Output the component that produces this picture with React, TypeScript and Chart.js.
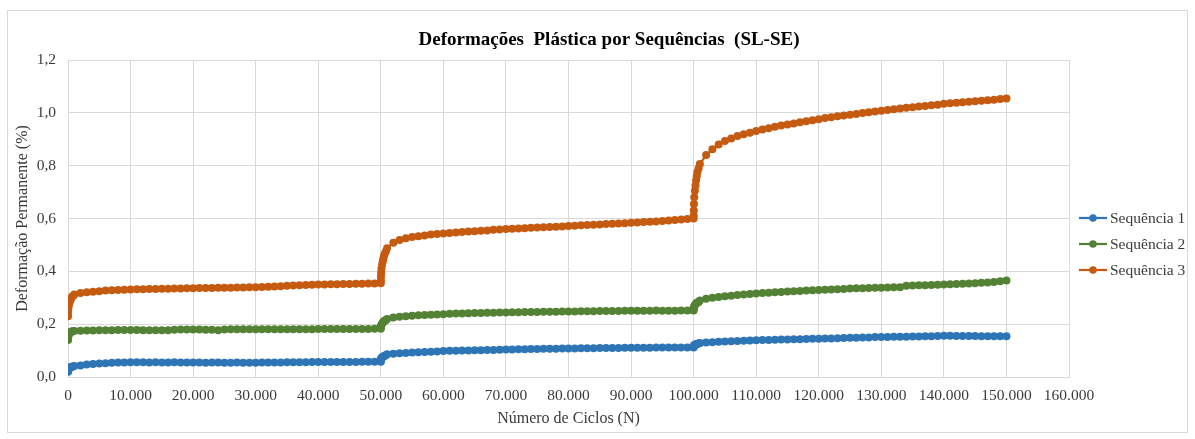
import React, { useEffect, useRef } from "react";
import { Chart, registerables } from "chart.js";

Chart.register(...registerables);

// Cycle offsets within each loading stage (N), and stage starting cycles
const CYCLE_OFFSETS = [
  10, 20, 50, 100, 200, 300, 400, 500, 600, 800,
  1000, 2000, 3000, 4000, 5000, 6000, 7000, 8000, 9000, 10000,
  11000, 12000, 13000, 14000, 15000, 16000, 17000, 18000, 19000, 20000,
  21000, 22000, 23000, 24000, 25000, 26000, 27000, 28000, 29000, 30000,
  31000, 32000, 33000, 34000, 35000, 36000, 37000, 38000, 39000, 40000,
  41000, 42000, 43000, 44000, 45000, 46000, 47000, 48000, 49000, 50000,
];
const STAGE_STARTS = [0, 50000, 100000];

// Sequência 1 (%)
const SEQ1_STAGE1 = [
  0.020, 0.024, 0.027, 0.030, 0.033, 0.035, 0.037, 0.038, 0.039, 0.040,
  0.042, 0.044, 0.047, 0.049, 0.051, 0.052, 0.054, 0.055, 0.055, 0.056,
  0.056, 0.056, 0.055, 0.056, 0.055, 0.055, 0.056, 0.055, 0.055, 0.055,
  0.055, 0.054, 0.055, 0.055, 0.054, 0.054, 0.055, 0.054, 0.054, 0.054,
  0.055, 0.055, 0.055, 0.055, 0.056, 0.056, 0.056, 0.056, 0.057, 0.057,
  0.057, 0.057, 0.057, 0.057, 0.057, 0.057, 0.058, 0.058, 0.058, 0.058,
];
const SEQ1_STAGE2 = [
  0.062, 0.066, 0.069, 0.072, 0.074, 0.076, 0.078, 0.079, 0.080, 0.082,
  0.086, 0.088, 0.090, 0.091, 0.093, 0.094, 0.095, 0.096, 0.097, 0.098,
  0.099, 0.099, 0.100, 0.100, 0.101, 0.101, 0.102, 0.102, 0.103, 0.104,
  0.104, 0.105, 0.105, 0.106, 0.106, 0.107, 0.107, 0.107, 0.108, 0.108,
  0.108, 0.109, 0.109, 0.109, 0.110, 0.110, 0.110, 0.110, 0.111, 0.111,
  0.111, 0.111, 0.111, 0.112, 0.112, 0.112, 0.112, 0.112, 0.112, 0.112,
];
const SEQ1_STAGE3 = [
  0.114, 0.116, 0.118, 0.120, 0.122, 0.123, 0.124, 0.125, 0.126, 0.127,
  0.129, 0.131, 0.132, 0.133, 0.134, 0.135, 0.136, 0.137, 0.138, 0.139,
  0.140, 0.140, 0.141, 0.142, 0.142, 0.143, 0.143, 0.144, 0.145, 0.145,
  0.146, 0.146, 0.147, 0.148, 0.149, 0.149, 0.150, 0.150, 0.151, 0.151,
  0.151, 0.152, 0.152, 0.152, 0.153, 0.153, 0.154, 0.154, 0.155, 0.156,
  0.156, 0.155, 0.155, 0.155, 0.155, 0.154, 0.154, 0.154, 0.154, 0.154,
];

// Sequência 2 (%)
const SEQ2_STAGE1 = [
  0.140, 0.148, 0.155, 0.160, 0.164, 0.167, 0.169, 0.171, 0.172, 0.173,
  0.174, 0.175, 0.176, 0.176, 0.177, 0.177, 0.177, 0.178, 0.178, 0.178,
  0.178, 0.177, 0.177, 0.177, 0.177, 0.177, 0.179, 0.180, 0.180, 0.180,
  0.180, 0.179, 0.179, 0.177, 0.180, 0.181, 0.181, 0.181, 0.181, 0.181,
  0.181, 0.181, 0.181, 0.181, 0.181, 0.181, 0.181, 0.181, 0.181, 0.182,
  0.182, 0.182, 0.182, 0.182, 0.182, 0.182, 0.182, 0.182, 0.183, 0.183,
];
const SEQ2_STAGE2 = [
  0.186, 0.190, 0.194, 0.198, 0.202, 0.205, 0.208, 0.211, 0.213, 0.215,
  0.220, 0.225, 0.228, 0.230, 0.232, 0.234, 0.235, 0.236, 0.237, 0.238,
  0.239, 0.240, 0.240, 0.241, 0.242, 0.242, 0.243, 0.243, 0.244, 0.244,
  0.245, 0.245, 0.246, 0.246, 0.246, 0.247, 0.247, 0.247, 0.248, 0.248,
  0.248, 0.249, 0.249, 0.249, 0.250, 0.250, 0.250, 0.250, 0.251, 0.251,
  0.251, 0.251, 0.251, 0.252, 0.251, 0.251, 0.251, 0.252, 0.252, 0.252,
];
const SEQ2_STAGE3 = [
  0.256, 0.260, 0.264, 0.268, 0.272, 0.275, 0.278, 0.280, 0.282, 0.284,
  0.290, 0.296, 0.300, 0.303, 0.306, 0.308, 0.310, 0.312, 0.314, 0.316,
  0.318, 0.319, 0.321, 0.322, 0.324, 0.325, 0.326, 0.327, 0.328, 0.329,
  0.330, 0.331, 0.332, 0.333, 0.335, 0.336, 0.336, 0.337, 0.338, 0.338,
  0.339, 0.340, 0.340, 0.345, 0.346, 0.347, 0.347, 0.348, 0.349, 0.350,
  0.351, 0.352, 0.353, 0.354, 0.355, 0.357, 0.358, 0.360, 0.362, 0.365,
];

// Sequência 3 (%)
const SEQ3_STAGE1 = [
  0.230, 0.245, 0.258, 0.268, 0.278, 0.286, 0.292, 0.298, 0.303, 0.307,
  0.312, 0.318, 0.321, 0.323, 0.325, 0.327, 0.328, 0.329, 0.330, 0.331,
  0.332, 0.332, 0.333, 0.333, 0.334, 0.334, 0.335, 0.335, 0.336, 0.336,
  0.337, 0.337, 0.337, 0.338, 0.338, 0.338, 0.339, 0.339, 0.340, 0.340,
  0.341, 0.342, 0.343, 0.344, 0.345, 0.346, 0.347, 0.348, 0.349, 0.350,
  0.350, 0.351, 0.351, 0.352, 0.352, 0.353, 0.353, 0.354, 0.354, 0.355,
];
const SEQ3_STAGE2 = [
  0.365, 0.380, 0.395, 0.410, 0.425, 0.437, 0.448, 0.457, 0.465, 0.475,
  0.487, 0.508, 0.519, 0.525, 0.530, 0.533, 0.536, 0.539, 0.541, 0.543,
  0.545, 0.547, 0.549, 0.551, 0.552, 0.554, 0.555, 0.557, 0.558, 0.560,
  0.561, 0.562, 0.563, 0.565, 0.566, 0.567, 0.568, 0.569, 0.570, 0.572,
  0.573, 0.574, 0.575, 0.576, 0.577, 0.579, 0.580, 0.581, 0.582, 0.584,
  0.585, 0.587, 0.588, 0.589, 0.591, 0.592, 0.594, 0.596, 0.598, 0.600,
];
const SEQ3_STAGE3 = [
  0.610, 0.630, 0.655, 0.680, 0.705, 0.725, 0.745, 0.760, 0.775, 0.790,
  0.806, 0.840, 0.862, 0.880, 0.893, 0.903, 0.912, 0.919, 0.925, 0.931,
  0.937, 0.942, 0.947, 0.952, 0.956, 0.960, 0.964, 0.968, 0.972, 0.976,
  0.980, 0.983, 0.987, 0.990, 0.993, 0.996, 0.999, 1.002, 1.005, 1.008,
  1.011, 1.014, 1.016, 1.019, 1.021, 1.024, 1.026, 1.029, 1.031, 1.034,
  1.036, 1.038, 1.040, 1.042, 1.044, 1.046, 1.048, 1.050, 1.052, 1.054,
];

const SERIES_LABELS = ["Sequência 1", "Sequência 2", "Sequência 3"];
const SERIES_COLORS = ["#2E75B6", "#548235", "#C55A11"];
const SERIES_STAGES = [
  [SEQ1_STAGE1, SEQ1_STAGE2, SEQ1_STAGE3],
  [SEQ2_STAGE1, SEQ2_STAGE2, SEQ2_STAGE3],
  [SEQ3_STAGE1, SEQ3_STAGE2, SEQ3_STAGE3],
];

const TITLE = "Deformações  Plástica por Sequências  (SL-SE)";
const X_TITLE = "Número de Ciclos (N)";
const Y_TITLE = "Deformação Permanente (%)";

const FONT = '"Liberation Serif", "Times New Roman", serif';
const TEXT_COLOR = "#3a3a3a";
const GRID_COLOR = "#d9d9d9";

function buildPoints(stages: number[][]) {
  const pts: { x: number; y: number }[] = [];
  stages.forEach((vals, s) => {
    vals.forEach((v, i) => {
      pts.push({ x: STAGE_STARTS[s] + CYCLE_OFFSETS[i], y: v });
    });
  });
  return pts;
}

function fmtThousands(v: number) {
  return Math.round(v)
    .toString()
    .replace(/\B(?=(\d{3})+(?!\d))/g, ".");
}

const framePlugin = {
  id: "frame",
  beforeDraw(chart: any) {
    const ctx = chart.ctx;
    ctx.save();
    ctx.fillStyle = "#ffffff";
    ctx.fillRect(0, 0, chart.width, chart.height);
    ctx.strokeStyle = GRID_COLOR;
    ctx.lineWidth = 1;
    ctx.strokeRect(7.5, 10.5, 1180, 422);
    ctx.restore();
  },
};

const titleLegendPlugin = {
  id: "titleLegend",
  afterDraw(chart: any) {
    const ctx = chart.ctx;
    ctx.save();
    // Title
    ctx.font = `bold 19px ${FONT}`;
    ctx.fillStyle = "#000000";
    ctx.textAlign = "center";
    ctx.textBaseline = "middle";
    ctx.fillText(TITLE, 609, 40);
    // Legend
    const ys = [218, 244, 270];
    ctx.font = `15.5px ${FONT}`;
    ctx.textAlign = "left";
    SERIES_LABELS.forEach((label, i) => {
      const y = ys[i];
      ctx.strokeStyle = SERIES_COLORS[i];
      ctx.lineWidth = 2.25;
      ctx.beginPath();
      ctx.moveTo(1079, y);
      ctx.lineTo(1107, y);
      ctx.stroke();
      ctx.fillStyle = SERIES_COLORS[i];
      ctx.beginPath();
      ctx.arc(1093, y, 3.8, 0, Math.PI * 2);
      ctx.fill();
      ctx.fillStyle = TEXT_COLOR;
      ctx.fillText(label, 1110, y + 0.5);
    });
    ctx.restore();
  },
};

export default function App() {
  const canvasRef = useRef<HTMLCanvasElement | null>(null);

  useEffect(() => {
    if (!canvasRef.current) return;
    const datasets = SERIES_LABELS.map((label, i) => ({
      label,
      data: buildPoints(SERIES_STAGES[i]),
      borderColor: SERIES_COLORS[i],
      backgroundColor: SERIES_COLORS[i],
      pointBackgroundColor: SERIES_COLORS[i],
      pointBorderColor: SERIES_COLORS[i],
      pointBorderWidth: 0,
      pointRadius: 4,
      borderWidth: 2.25,
      showLine: true,
      tension: 0,
    }));

    const chart = new Chart(canvasRef.current, {
      type: "scatter",
      data: { datasets },
      options: {
        responsive: false,
        animation: false,
        layout: { padding: { top: 60, right: 126, left: 0, bottom: 0 } },
        plugins: {
          legend: { display: false },
          title: { display: false },
          tooltip: { enabled: false },
        },
        scales: {
          x: {
            type: "linear",
            min: 0,
            max: 160000,
            afterFit: (scale: any) => {
              scale.height = 62;
            },
            ticks: {
              stepSize: 10000,
              autoSkip: false,
              maxRotation: 0,
              padding: 10,
              color: TEXT_COLOR,
              font: { family: FONT, size: 15.5 },
              callback: (v: any) => (Number(v) === 0 ? "0" : fmtThousands(Number(v))),
            },
            grid: { color: GRID_COLOR, lineWidth: 1, drawTicks: false },
            border: { display: true, color: GRID_COLOR },
            title: {
              display: true,
              text: X_TITLE,
              color: TEXT_COLOR,
              font: { family: FONT, size: 16 },
              padding: { top: 0, bottom: 10.5 },
            },
          },
          y: {
            type: "linear",
            min: 0,
            max: 1.2,
            afterFit: (scale: any) => {
              scale.width = 68;
            },
            ticks: {
              stepSize: 0.2,
              padding: 12,
              color: TEXT_COLOR,
              font: { family: FONT, size: 15.5 },
              callback: (v: any) => Number(v).toFixed(1).replace(".", ","),
            },
            grid: { color: GRID_COLOR, lineWidth: 1, drawTicks: false },
            border: { display: true, color: GRID_COLOR },
            title: {
              display: true,
              text: Y_TITLE,
              color: TEXT_COLOR,
              font: { family: FONT, size: 16 },
              padding: { top: 13, bottom: 0 },
            },
          },
        },
      },
      plugins: [framePlugin, titleLegendPlugin],
    } as any);

    return () => chart.destroy();
  }, []);

  return (
    <div style={{ position: "absolute", left: 0, top: 0, width: 1195, height: 439, background: "#fff" }}>
      <canvas ref={canvasRef} width={1195} height={439} style={{ display: "block", width: 1195, height: 439 }} />
    </div>
  );
}
